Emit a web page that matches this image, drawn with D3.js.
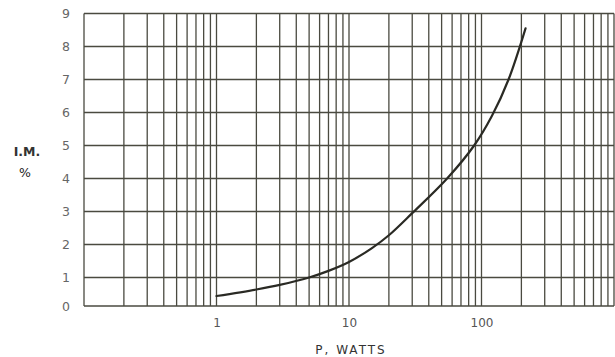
<!DOCTYPE html>
<html>
<head>
<meta charset="utf-8">
<script src="https://cdn.jsdelivr.net/npm/d3@7"></script>
<style>
  html, body { margin: 0; padding: 0; background: #fff; }
  svg { display: block; }
  text { font-family: "DejaVu Sans", "Liberation Sans", sans-serif; }
</style>
</head>
<body>
<svg id="chart" width="615" height="357"></svg>
<script>
// Intermodulation distortion vs. output power
const powerWatts = [1, 2, 3, 5, 7, 10, 15, 20, 30, 55, 88, 120, 160, 215];
const imPercent  = [0.35, 0.58, 0.74, 1.0, 1.2, 1.47, 1.9, 2.28, 2.95, 4.0, 5.0, 5.9, 7.0, 8.55];
const yTickValues = [0, 1, 2, 3, 4, 5, 6, 7, 8, 9];
const yTickLabels = ["0", "1", "2", "3", "4", "5", "6", "7", "8", "9"];
const xTickValues = [1, 10, 100];
const xTickLabels = ["1", "10", "100"];
const xTitle = "P, WATTS";
const yTitle = ["I.M.", "%"];

const svg = d3.select("#chart");
const gridColor = "#4a4a40";

const x = d3.scaleLog().domain([0.1, 1000]).range([84, 614]);
// the printed grid has a slightly shorter first row
const y = d3.scaleLinear().domain([0, 1, 9]).range([306, 277.5, 13.5]);

// vertical log grid: 1..9 in every decade
const vLines = [];
for (let e = -1; e <= 2; e++) {
  for (let m = 1; m <= 9; m++) vLines.push(m * Math.pow(10, e));
}
vLines.push(1000);

const grid = svg.append("g");
grid.selectAll("line.v").data(vLines).join("line")
  .attr("class", "v")
  .attr("x1", d => x(d)).attr("x2", d => x(d))
  .attr("y1", y(0)).attr("y2", y(9))
  .attr("stroke", gridColor).attr("stroke-width", 1.3);

grid.selectAll("line.h").data(yTickValues).join("line")
  .attr("class", "h")
  .attr("x1", x(0.1)).attr("x2", x(1000))
  .attr("y1", d => y(d)).attr("y2", d => y(d))
  .attr("stroke", gridColor).attr("stroke-width", 1.3);

// y axis labels
const yAxis = d3.axisLeft(y).tickValues(yTickValues)
  .tickFormat((d, i) => yTickLabels[i]).tickSize(0).tickPadding(18);
const ya = svg.append("g").attr("transform", `translate(${x(0.1)},0)`).call(yAxis);
ya.select(".domain").remove();
ya.selectAll("text").attr("font-size", 12.5).attr("fill", "#666").attr("text-anchor", "middle");

// x axis labels
const xAxis = d3.axisBottom(x).tickValues(xTickValues)
  .tickFormat((d, i) => xTickLabels[i]).tickSize(0).tickPadding(12);
const xa = svg.append("g").attr("transform", `translate(0,${y(0)})`).call(xAxis);
xa.select(".domain").remove();
xa.selectAll("text").attr("font-size", 12).attr("fill", "#555");

// axis titles
svg.append("text").attr("x", 27).attr("y", 156)
  .attr("text-anchor", "middle").attr("font-size", 12.5).attr("font-weight", "bold").attr("fill", "#333")
  .text(yTitle[0]);
svg.append("text").attr("x", 25).attr("y", 177)
  .attr("text-anchor", "middle").attr("font-size", 12.5).attr("fill", "#222")
  .text(yTitle[1]);
svg.append("text").attr("x", 351).attr("y", 354)
  .attr("text-anchor", "middle").attr("font-size", 12).attr("fill", "#333")
  .attr("letter-spacing", 2)
  .text(xTitle);

// distortion curve
const pts = powerWatts.map((p, i) => [p, imPercent[i]]);
const line = d3.line().x(d => x(d[0])).y(d => y(d[1])).curve(d3.curveCatmullRom.alpha(0.5));
svg.append("path").datum(pts)
  .attr("d", line)
  .attr("fill", "none").attr("stroke", "#2a2a24").attr("stroke-width", 2.2)
  .attr("stroke-linecap", "round");
</script>
</body>
</html>
